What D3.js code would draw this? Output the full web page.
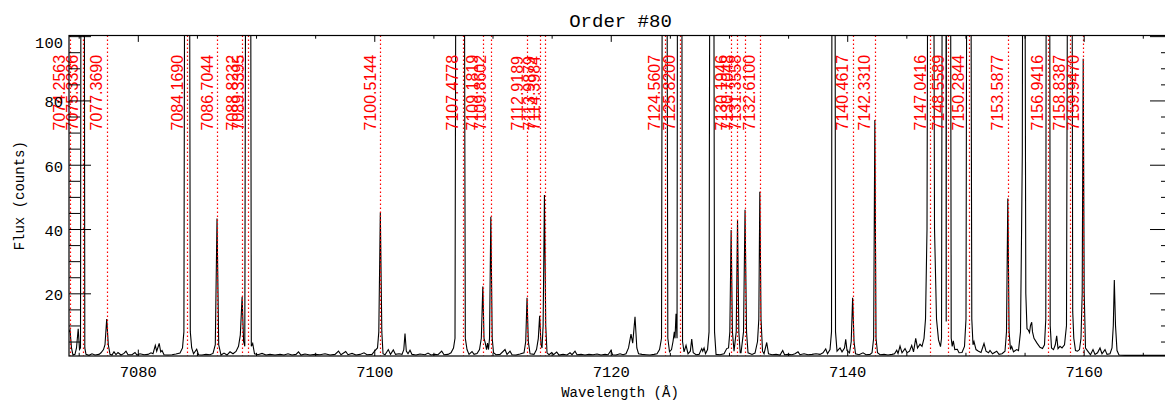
<!DOCTYPE html>
<html><head><meta charset="utf-8">
<script src="https://cdn.jsdelivr.net/npm/d3@7"></script>
<style>body{margin:0;background:#fff;overflow:hidden}svg{display:block}</style>
</head><body>
<svg id="chart" width="1165" height="401"></svg>
<script>
// ---- data ----
const titleText = "Order #80";
const xTitle = "Wavelength (\u00C5)";
const yTitle = "Flux (counts)";
const xDomain = [7074.18, 7167.47];
const yDomain = [0.5, 100.2];
const xMajorTicks = [7080, 7100, 7120, 7140, 7160];
const xMinorTicks = [7075, 7085, 7090, 7095, 7105, 7110, 7115, 7125, 7130, 7135, 7145, 7150, 7155, 7165];
const yMajorTicks = [20, 40, 60, 80, 100];
const yMinorTicks = [5, 10, 15, 25, 30, 35, 45, 50, 55, 65, 70, 75, 85, 90, 95];

const lineWave = [7074.2563, 7075.3336, 7077.3690, 7084.1690, 7086.7044, 7088.8232, 7089.3395,
  7100.5144, 7107.4778, 7109.1819, 7109.8602, 7112.9189, 7113.9879, 7114.3984, 7124.5607,
  7125.8200, 7130.1946, 7130.7048, 7131.3558, 7132.6100, 7140.4617, 7142.3310, 7147.0416,
  7148.5589, 7150.2844, 7153.5877, 7156.9416, 7158.8387, 7159.9470];
const lineLabel = lineWave.map(v => v.toFixed(4));

// spectrum vertices: [wavelength, flux]
const spectrum = [
[7074.180,8.0],[7074.265,8.6],[7074.391,3],[7074.518,0.8],[7074.687,1.0],[7074.814,3],[7074.958,9.0],
[7075.068,2.5],[7075.153,3],[7075.210,200],[7075.330,600],[7075.450,200],[7075.517,3],[7075.618,1.0],
[7075.872,0.7],[7076.125,1.2],[7076.379,0.8],[7076.718,1.0],[7076.887,1.5],[7077.098,2.5],[7077.225,4],
[7077.369,12.0],[7077.504,4],[7077.648,1.0],[7077.817,0.8],[7077.986,1.8],[7078.155,0.9],[7078.325,1.6],
[7078.578,0.8],[7078.832,1.3],[7079.001,2.0],[7079.170,0.9],[7079.508,0.9],[7079.762,1.6],[7079.931,0.8],
[7080.185,1.2],[7080.523,0.9],[7080.862,1.0],[7081.115,1.5],[7081.285,1.2],[7081.479,3.8],[7081.598,2.0],
[7081.809,4.4],[7081.936,1.8],[7082.046,2.2],[7082.215,0.9],[7082.553,0.8],[7082.892,0.9],[7083.230,1.1],
[7083.569,1.4],[7083.780,3],[7083.898,8],[7084.000,200],[7084.169,600],[7084.340,200],[7084.440,8],
[7084.558,3],[7084.711,1.2],[7084.981,2.6],[7085.133,0.9],[7085.429,0.8],[7085.768,1.0],[7086.106,0.9],
[7086.360,1.3],[7086.554,4],[7086.698,43.3],[7086.842,4],[7087.037,0.8],[7087.290,1.4],[7087.544,0.8],
[7087.798,1.8],[7088.051,1.2],[7088.305,1.9],[7088.516,3.5],[7088.669,7],[7088.821,18.9],[7088.948,5],
[7089.049,3.5],[7089.160,200],[7089.337,600],[7089.515,200],[7089.600,3.5],[7089.718,4.4],[7089.870,1.2],
[7090.166,0.9],[7090.504,1.3],[7090.843,0.8],[7091.181,1.0],[7091.604,0.8],[7092.027,1.0],[7092.365,0.8],
[7092.703,1.2],[7093.042,0.8],[7093.380,1.0],[7093.591,1.8],[7093.803,0.8],[7094.141,1.1],[7094.564,0.8],
[7094.987,1.0],[7095.410,0.9],[7095.833,1.2],[7096.256,0.8],[7096.679,1.0],[7096.975,2.0],[7097.186,0.9],
[7097.584,1.9],[7097.778,0.9],[7098.117,1.3],[7098.455,0.8],[7098.793,1.0],[7099.132,1.5],[7099.385,0.9],
[7099.808,1.0],[7100.062,2.2],[7100.273,3],[7100.383,8],[7100.511,45.1],[7100.638,8],[7100.739,1.2],
[7100.908,0.9],[7101.187,2.5],[7101.373,1.0],[7101.610,2.4],[7101.796,1.0],[7102.092,1.2],[7102.345,1.0],
[7102.497,2.5],[7102.599,7.5],[7102.709,2.0],[7102.853,1.2],[7103.022,2.3],[7103.191,1.0],[7103.529,0.8],
[7103.868,1.1],[7104.291,0.9],[7104.545,1.4],[7104.798,0.8],[7105.136,1.0],[7105.390,0.9],[7105.703,2.0],
[7105.898,0.9],[7106.236,1.0],[7106.490,1.5],[7106.701,3.0],[7106.828,6],[7106.938,200],[7107.209,800],
[7107.479,400],[7107.572,200],[7107.699,6],[7107.843,2.5],[7108.013,1.0],[7108.266,1.9],[7108.436,1.0],
[7108.690,1.3],[7108.900,2.5],[7109.053,6],[7109.180,22.1],[7109.282,6],[7109.392,4.5],[7109.493,2.5],
[7109.578,4.5],[7109.662,2.5],[7109.747,6],[7109.857,43.8],[7109.975,6],[7110.085,1.5],[7110.297,0.9],
[7110.635,1.0],[7111.058,2.5],[7111.227,1.0],[7111.481,2.0],[7111.650,0.9],[7111.988,0.8],[7112.327,1.1],
[7112.665,1.5],[7112.809,5],[7112.919,18.6],[7113.029,5],[7113.173,1.2],[7113.511,1.0],[7113.722,2.5],
[7113.875,6],[7113.985,13.0],[7114.103,4],[7114.188,3],[7114.281,10],[7114.391,50.6],[7114.501,10],
[7114.611,1.5],[7114.780,0.9],[7115.008,1.6],[7115.160,0.9],[7115.431,1.7],[7115.625,0.8],[7115.964,1.0],
[7116.302,0.8],[7116.556,1.5],[7116.725,0.9],[7116.978,2.0],[7117.147,0.9],[7117.486,1.0],[7117.824,0.8],
[7118.162,1.0],[7118.501,0.9],[7118.839,1.1],[7119.177,0.8],[7119.516,1.0],[7119.770,0.9],[7120.023,2.2],
[7120.150,0.9],[7120.446,0.8],[7120.784,1.2],[7121.038,0.9],[7121.292,1.2],[7121.503,3],[7121.714,7.3],
[7121.858,4.5],[7122.053,12.7],[7122.206,3],[7122.350,1.2],[7122.646,1.0],[7122.984,0.9],[7123.323,0.8],
[7123.661,1.0],[7123.914,1.2],[7124.126,2.5],[7124.295,6],[7124.395,200],[7124.557,600],[7124.720,200],
[7124.827,6],[7124.971,1.8],[7125.141,2.5],[7125.267,5],[7125.377,8],[7125.436,6],[7125.521,13.6],
[7125.606,6],[7125.665,200],[7125.818,600],[7125.970,200],[7126.072,5],[7126.199,1.8],[7126.368,3.8],
[7126.537,1.2],[7126.732,2],[7126.850,5.8],[7126.977,1.5],[7127.214,0.9],[7127.468,1.0],[7127.696,2.8],
[7127.781,2.0],[7127.891,3.0],[7128.017,1.2],[7128.187,2.5],[7128.314,8],[7128.415,200],[7128.549,500],
[7128.683,200],[7128.778,8],[7128.905,1.0],[7129.243,0.9],[7129.582,1.2],[7129.810,2.8],[7129.962,3],
[7130.072,8],[7130.182,39.7],[7130.292,8],[7130.427,2],[7130.613,8],[7130.723,42.8],[7130.833,8],
[7130.951,1.5],[7131.019,1.5],[7131.230,8],[7131.357,46.0],[7131.484,8],[7131.611,1.5],[7131.949,1.0],
[7132.203,1.4],[7132.414,5],[7132.524,12],[7132.608,51.6],[7132.710,12],[7132.837,2],[7132.964,1.2],
[7133.192,4.7],[7133.344,1.2],[7133.640,0.9],[7133.979,1.0],[7134.317,0.8],[7134.545,2.2],[7134.697,0.9],
[7134.993,1.0],[7135.331,0.9],[7135.585,1.2],[7135.839,1.8],[7136.008,0.9],[7136.346,1.2],[7136.685,0.9],
[7137.023,1.0],[7137.361,1.2],[7137.700,1.0],[7137.953,1.5],[7138.182,2.7],[7138.334,1.2],[7138.545,2.5],
[7138.672,8],[7138.735,200],[7138.842,500],[7138.950,200],[7139.011,8],[7139.138,2],[7139.392,3.0],
[7139.561,1.8],[7139.772,3],[7139.874,5.7],[7139.984,2.2],[7140.195,1.5],[7140.339,5],[7140.458,18.6],
[7140.576,5],[7140.703,1.2],[7140.999,0.9],[7141.338,1.5],[7141.592,0.9],[7141.930,1.0],[7142.099,1.5],
[7142.235,6],[7142.336,73.9],[7142.437,6],[7142.564,1.5],[7142.775,0.9],[7143.114,1.0],[7143.452,0.8],
[7143.790,1.0],[7144.002,1.2],[7144.188,2.3],[7144.298,1.3],[7144.467,3.6],[7144.636,1.5],[7144.890,2.8],
[7145.059,1.5],[7145.270,2.0],[7145.456,3.8],[7145.608,1.8],[7145.794,6.0],[7145.946,3.0],[7146.158,4.2],
[7146.327,3.5],[7146.496,6],[7146.623,12],[7146.749,40],[7146.859,200],[7147.054,900],[7147.274,200],
[7147.384,40],[7147.553,12],[7147.722,5.5],[7147.891,3.4],[7147.976,6],[7148.069,200],[7148.205,600],
[7148.339,200],[7148.373,11.2],[7148.406,200],[7148.558,600],[7148.711,200],[7148.796,6],[7148.880,3.5],
[7148.973,5.2],[7149.100,2.5],[7149.312,2.6],[7149.455,1.5],[7149.709,1.6],[7149.920,3.5],[7150.047,12],
[7150.148,200],[7150.284,700],[7150.419,200],[7150.537,12],[7150.639,4],[7150.723,5.0],[7150.893,2.5],
[7151.104,2.0],[7151.316,1.6],[7151.570,4.4],[7151.739,2.0],[7151.950,1.5],[7152.077,2.2],[7152.289,1.2],
[7152.644,2.0],[7152.838,1.0],[7153.092,1.2],[7153.345,2.0],[7153.472,8],[7153.582,49.5],[7153.692,8],
[7153.810,2.5],[7153.912,3.5],[7154.064,1.8],[7154.335,2.5],[7154.487,2.2],[7154.656,8],[7154.749,40],
[7154.809,63.5],[7154.851,150],[7154.936,500],[7155.020,150],[7155.105,20],[7155.206,9],[7155.316,8.6],
[7155.418,7.8],[7155.503,10],[7155.604,11.0],[7155.672,8],[7155.798,6],[7156.052,4.5],[7156.306,3.2],
[7156.517,2.8],[7156.686,4],[7156.796,12],[7156.850,200],[7156.974,600],[7157.098,200],[7157.168,10],
[7157.278,3],[7157.447,2.5],[7157.600,4],[7157.718,6.8],[7157.828,2.8],[7157.997,3.5],[7158.166,3.0],
[7158.378,4],[7158.547,10],[7158.685,200],[7158.835,600],[7158.985,200],[7159.072,14.3],[7159.164,6],
[7159.308,2.2],[7159.477,2.0],[7159.646,2.5],[7159.773,6],[7159.875,20],[7159.960,93],[7160.044,20],
[7160.154,3],[7160.391,1.8],[7160.577,0.9],[7160.789,2.5],[7160.958,1.0],[7161.170,1.5],[7161.381,3.0],
[7161.550,1.2],[7161.804,2.5],[7161.973,1.0],[7162.227,1.2],[7162.396,3],[7162.506,10],[7162.591,24.1],
[7162.692,10],[7162.819,2.2],[7162.988,0.8],[7163.496,0.7],[7164.342,0.7],[7165.188,0.7],[7166.034,0.7],
[7166.880,0.7]
];

// ---- layout ----
const plotLeft = 69, plotRight = 1172, plotTop = 35.5, plotBottom = 356;
const monoFont = "'Liberation Mono', 'DejaVu Sans Mono', monospace";
const sansFont = "'Liberation Sans', Arial, sans-serif";

const svg = d3.select("#chart");
svg.append("rect").attr("width", 1165).attr("height", 401).attr("fill", "#fff");

const x = d3.scaleLinear().domain(xDomain).range([plotLeft, plotRight]);
const y = d3.scaleLinear().domain(yDomain).range([plotBottom, plotTop]);

svg.append("clipPath").attr("id", "plotclip")
  .append("rect").attr("x", plotLeft).attr("y", plotTop)
  .attr("width", plotRight - plotLeft).attr("height", plotBottom - plotTop);

// spectrum
const line = d3.line().x(d => x(d[0])).y(d => y(d[1]));
svg.append("path").datum(spectrum)
  .attr("d", line).attr("fill", "none").attr("stroke", "#000")
  .attr("stroke-width", 1.1).attr("stroke-linejoin", "miter")
  .attr("clip-path", "url(#plotclip)");

// red reference lines
const ref = svg.append("g");
ref.selectAll("line").data(lineWave).join("line")
  .attr("x1", d => Math.round(x(d)) + 0.5).attr("x2", d => Math.round(x(d)) + 0.5)
  .attr("y1", plotTop).attr("y2", plotBottom)
  .attr("stroke", "#ff0000").attr("stroke-width", 1.2)
  .attr("stroke-dasharray", "1.5,2.5");
ref.selectAll("text").data(lineWave).join("text")
  .attr("transform", d => `translate(${x(d) - 4.5},130.5) rotate(-90)`)
  .attr("text-anchor", "start")
  .attr("fill", "#ff0000")
  .style("font-family", sansFont).style("font-size", "16px")
  .text((d, i) => lineLabel[i]);

// axes
function styleAxis(g) {
  g.select(".domain").remove();
  g.selectAll("line").attr("stroke", "#000");
  g.selectAll("text").attr("fill", "#000").style("font-family", monoFont).style("font-size", "15.5px");
}
svg.append("g").attr("transform", `translate(0,${plotBottom})`)
  .call(d3.axisBottom(x).tickValues(xMajorTicks).tickSize(-6.4).tickPadding(10).tickFormat(d3.format("d"))).call(styleAxis);
svg.append("g").attr("transform", `translate(0,${plotBottom})`)
  .call(d3.axisBottom(x).tickValues(xMinorTicks).tickSize(-3.2).tickFormat("")).call(styleAxis);
svg.append("g").attr("transform", `translate(0,${plotTop})`)
  .call(d3.axisTop(x).tickValues(xMajorTicks).tickSize(-6.4).tickFormat("")).call(styleAxis);
svg.append("g").attr("transform", `translate(0,${plotTop})`)
  .call(d3.axisTop(x).tickValues(xMinorTicks).tickSize(-3.2).tickFormat("")).call(styleAxis);
const yl = svg.append("g").attr("transform", `translate(${plotLeft},0)`)
  .call(d3.axisLeft(y).tickValues(yMajorTicks).tickSize(-22).tickPadding(6).tickFormat(d3.format("d"))).call(styleAxis);
yl.selectAll("text").attr("dy", d => d === yDomain[1] || d >= 100 ? "0.75em" : "0.42em");
svg.append("g").attr("transform", `translate(${plotLeft},0)`)
  .call(d3.axisLeft(y).tickValues(yMinorTicks).tickSize(-11).tickFormat("")).call(styleAxis);
svg.append("g").attr("transform", `translate(${plotRight},0)`)
  .call(d3.axisRight(y).tickValues(yMajorTicks).tickSize(-22).tickFormat("")).call(styleAxis);
svg.append("g").attr("transform", `translate(${plotRight},0)`)
  .call(d3.axisRight(y).tickValues(yMinorTicks).tickSize(-11).tickFormat("")).call(styleAxis);

// frame
svg.append("rect").attr("x", plotLeft).attr("y", plotTop)
  .attr("width", plotRight - plotLeft).attr("height", plotBottom - plotTop)
  .attr("fill", "none").attr("stroke", "#000").attr("stroke-width", 1.2);

// titles
svg.append("text").attr("x", (plotLeft + plotRight) / 2).attr("y", 27)
  .attr("text-anchor", "middle").style("font-family", monoFont).style("font-size", "19px")
  .text(titleText);
svg.append("text").attr("x", 620).attr("y", 397)
  .attr("text-anchor", "middle").style("font-family", monoFont).style("font-size", "14px")
  .text(xTitle);
svg.append("text").attr("transform", `translate(23.5,${(plotTop + plotBottom) / 2}) rotate(-90)`)
  .attr("text-anchor", "middle").style("font-family", monoFont).style("font-size", "14px")
  .text(yTitle);
</script>
</body></html>
